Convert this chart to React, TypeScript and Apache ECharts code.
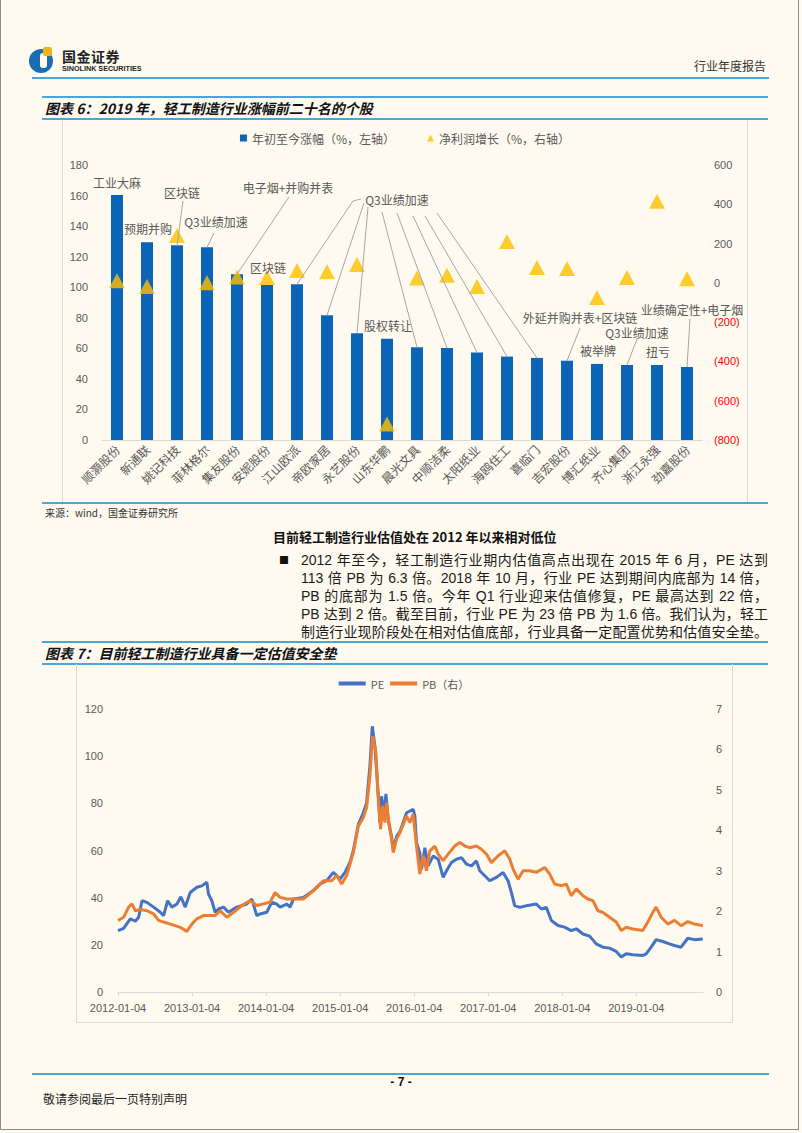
import React, { useEffect, useRef } from 'react';
import * as echarts from 'echarts';

// ---------- Chart 1 data ----------
const stocks = ['顺灏股份', '新通联', '姚记科技', '菲林格尔', '集友股份', '安妮股份', '江山欧派', '帝欧家居', '永艺股份', '山东华鹏', '晨光文具', '中顺洁柔', '太阳纸业', '海鸥住工', '喜临门', '吉宏股份', '博汇纸业', '齐心集团', '浙江永强', '劲嘉股份'];
const ytdGain = [160.4, 129.4, 127.4, 126.1, 108.5, 101.5, 101.9, 81.6, 69.8, 66.3, 60.7, 60.2, 57.2, 54.6, 53.7, 51.9, 49.8, 49.1, 49.1, 47.8];
const profitGrowth = [11, -19, 241, 1, 30, 27, 63, 56, 93, -718, 25, 39, -19, 210, 78, 73, -75, 27, 416, 21];
const leftTicks = { min: 0, max: 180, interval: 20 };
const rightTicks = { min: -800, max: 600, interval: 200 };

// ---------- Chart 2 data (decimal years) ----------
const peDates = [2012.000, 2012.076, 2012.166, 2012.234, 2012.279, 2012.324, 2012.391, 2012.481, 2012.571, 2012.616, 2012.670, 2012.728, 2012.796, 2012.849, 2012.908, 2012.975, 2013.065, 2013.133, 2013.200, 2013.222, 2013.267, 2013.312, 2013.357, 2013.425, 2013.492, 2013.604, 2013.739, 2013.807, 2013.874, 2013.919, 2014.009, 2014.076, 2014.144, 2014.189, 2014.279, 2014.324, 2014.369, 2014.503, 2014.638, 2014.728, 2014.818, 2014.908, 2014.998, 2015.065, 2015.133, 2015.178, 2015.245, 2015.312, 2015.357, 2015.402, 2015.434, 2015.470, 2015.515, 2015.537, 2015.560, 2015.591, 2015.618, 2015.649, 2015.694, 2015.717, 2015.762, 2015.807, 2015.897, 2015.987, 2016.009, 2016.031, 2016.076, 2016.099, 2016.144, 2016.189, 2016.256, 2016.324, 2016.391, 2016.436, 2016.503, 2016.571, 2016.638, 2016.706, 2016.773, 2016.840, 2016.885, 2016.953, 2017.020, 2017.110, 2017.200, 2017.267, 2017.312, 2017.357, 2017.425, 2017.515, 2017.649, 2017.717, 2017.784, 2017.852, 2017.942, 2018.031, 2018.121, 2018.189, 2018.279, 2018.369, 2018.458, 2018.548, 2018.638, 2018.728, 2018.796, 2018.863, 2018.953, 2019.088, 2019.133, 2019.200, 2019.267, 2019.357, 2019.447, 2019.515, 2019.604, 2019.694, 2019.784, 2019.897];
const peValues = [26, 27, 31, 30, 31.7, 38.7, 38, 36, 33.8, 32.4, 38.7, 36, 37.3, 40.4, 36, 42.2, 44.4, 45, 46.5, 41.5, 38.7, 33.8, 35.2, 36, 33.8, 36, 37.3, 39.4, 32.4, 33.1, 33.8, 38, 37.3, 36, 37.3, 36, 39.4, 40.1, 43, 45.8, 47.2, 50.7, 47.9, 50.7, 55, 60, 71, 76, 80, 96, 112.7, 104, 83, 72, 83, 74.6, 84, 73, 66, 60.5, 66, 68, 76, 77.4, 74.6, 63.4, 59, 52, 61.2, 53.5, 57.7, 56.3, 48.6, 51.4, 54.9, 56.3, 57, 54.2, 53.5, 55.6, 51.4, 49.3, 47.2, 48.6, 50.7, 47.2, 42.2, 36.6, 35.9, 36.6, 37.3, 35.2, 35.9, 30.3, 28.2, 27.5, 26, 26.8, 24.6, 23.7, 20.4, 19, 18.6, 17.2, 14.8, 16.2, 15.8, 15.5, 16.2, 19, 22.2, 21.4, 20.4, 19.7, 19, 22.8, 22.2, 22.5];
const pbDates = [2012.000, 2012.076, 2012.144, 2012.189, 2012.234, 2012.301, 2012.391, 2012.481, 2012.548, 2012.616, 2012.706, 2012.773, 2012.840, 2012.930, 2012.998, 2013.065, 2013.155, 2013.245, 2013.312, 2013.380, 2013.470, 2013.560, 2013.672, 2013.784, 2013.874, 2013.964, 2014.054, 2014.121, 2014.189, 2014.279, 2014.369, 2014.503, 2014.638, 2014.773, 2014.885, 2014.953, 2015.020, 2015.088, 2015.178, 2015.245, 2015.312, 2015.357, 2015.402, 2015.438, 2015.483, 2015.515, 2015.546, 2015.573, 2015.604, 2015.627, 2015.663, 2015.694, 2015.717, 2015.762, 2015.807, 2015.897, 2015.942, 2015.987, 2016.031, 2016.076, 2016.121, 2016.166, 2016.211, 2016.279, 2016.324, 2016.391, 2016.458, 2016.548, 2016.616, 2016.683, 2016.751, 2016.840, 2016.908, 2016.975, 2017.043, 2017.133, 2017.222, 2017.290, 2017.335, 2017.402, 2017.470, 2017.560, 2017.649, 2017.762, 2017.829, 2017.897, 2017.987, 2018.054, 2018.121, 2018.189, 2018.279, 2018.346, 2018.413, 2018.481, 2018.548, 2018.638, 2018.728, 2018.796, 2018.863, 2018.953, 2019.088, 2019.155, 2019.222, 2019.267, 2019.335, 2019.425, 2019.515, 2019.604, 2019.694, 2019.784, 2019.897];
const pbValues = [1.77, 1.85, 2.10, 2.18, 2.01, 2.04, 2.01, 1.93, 1.77, 1.73, 1.68, 1.64, 1.60, 1.50, 1.68, 1.81, 1.89, 1.89, 1.89, 2.01, 1.85, 1.97, 2.14, 2.26, 2.14, 2.18, 2.22, 2.46, 2.34, 2.30, 2.30, 2.30, 2.50, 2.75, 2.75, 2.88, 2.67, 2.88, 3.45, 4.10, 4.31, 4.56, 5.34, 6.33, 5.92, 4.77, 4.03, 4.60, 4.19, 4.68, 4.11, 3.78, 3.45, 3.78, 3.94, 4.35, 4.19, 4.40, 3.61, 2.92, 3.37, 3.00, 3.49, 3.61, 3.41, 3.25, 3.41, 3.61, 3.70, 3.61, 3.57, 3.61, 3.53, 3.41, 3.20, 3.37, 3.49, 3.29, 3.04, 2.79, 3.00, 3.00, 2.96, 3.08, 2.92, 2.67, 2.63, 2.67, 2.38, 2.55, 2.38, 2.30, 2.26, 2.01, 1.97, 1.85, 1.73, 1.52, 1.60, 1.56, 1.52, 1.73, 1.97, 2.10, 1.85, 1.68, 1.77, 1.64, 1.74, 1.68, 1.64];

// ---------- Layout / styles ----------
const CJK = '"Noto Sans CJK SC", "Noto Sans", sans-serif';
const LAT = '"Liberation Sans", "Noto Sans CJK SC", sans-serif';
const BLUE_RULE = '#4aa6d8';
const GREY = '#595959';

const C1 = { left: 62, top: 120, width: 686, height: 383 };
const C2 = { left: 76, top: 664, width: 656, height: 358 };

// annotation labels (page coordinates) with leader lines to bar tops
type Leader = { bar: number; from: [number, number]; hook?: [number, number] };
const annotations: { text: string; x: number; y: number; leaders?: Leader[] }[] = [
  { text: '工业大麻', x: 117, y: 182 },
  { text: '预期并购', x: 148, y: 228 },
  { text: '区块链', x: 182, y: 192, leaders: [{ bar: 2, from: [183, 201] }] },
  { text: 'Q3业绩加速', x: 216, y: 221, leaders: [{ bar: 3, from: [214, 233] }] },
  { text: '电子烟+并购并表', x: 288, y: 187, leaders: [{ bar: 4, from: [289, 197] }] },
  { text: '区块链', x: 268, y: 267 },
  {
    text: 'Q3业绩加速', x: 397, y: 199, leaders: [
      { bar: 6, from: [353, 201], hook: [361, 199] },
      { bar: 7, from: [364, 203] },
      { bar: 8, from: [368, 207] },
      { bar: 10, from: [382, 212] },
      { bar: 11, from: [397, 213] },
      { bar: 12, from: [413, 216] },
      { bar: 13, from: [425, 216] },
      { bar: 14, from: [437, 213] },
    ],
  },
  { text: '股权转让', x: 388, y: 325 },
  { text: '外延并购并表+区块链', x: 580, y: 317, leaders: [{ bar: 15, from: [580, 328] }] },
  { text: '被举牌', x: 598, y: 350 },
  { text: 'Q3业绩加速', x: 637, y: 332, leaders: [{ bar: 17, from: [637, 339] }] },
  { text: '扭亏', x: 658, y: 351 },
  { text: '业绩确定性+电子烟', x: 692, y: 309, leaders: [{ bar: 19, from: [690, 319] }] },
];

const paraLines = [
  '2012 年至今，轻工制造行业期内估值高点出现在 2015 年 6 月，PE 达到',
  '113 倍 PB 为 6.3 倍。2018 年 10 月，行业 PE 达到期间内底部为 14 倍，',
  'PB 的底部为 1.5 倍。今年 Q1 行业迎来估值修复，PE 最高达到 22 倍，',
  'PB 达到 2 倍。截至目前，行业 PE 为 23 倍 PB 为 1.6 倍。我们认为，轻工',
  '制造行业现阶段处在相对估值底部，行业具备一定配置优势和估值安全垫。',
];

function Txt(props: { x: number; y: number; size: number; children: React.ReactNode; style?: React.CSSProperties; w?: number; align?: 'left' | 'right' | 'center' }) {
  const h = Math.round(props.size * 1.4);
  const st: React.CSSProperties = {
    position: 'absolute',
    top: props.y - h / 2,
    height: h,
    lineHeight: h + 'px',
    fontSize: props.size,
    whiteSpace: 'nowrap',
    ...props.style,
  };
  if (props.align === 'right') { st.right = 802 - props.x; }
  else if (props.align === 'center') { st.left = props.x - 200; st.width = 400; st.textAlign = 'center'; }
  else { st.left = props.x; }
  if (props.w) st.width = props.w;
  return <div style={st}>{props.children}</div>;
}

function Rule(props: { x1: number; x2: number; y: number; w?: number; color?: string }) {
  const w = props.w ?? 2;
  return <div style={{ position: 'absolute', left: props.x1, top: props.y - w / 2, width: props.x2 - props.x1, height: w, background: props.color ?? BLUE_RULE }} />;
}

export default function App() {
  const r1 = useRef<HTMLDivElement>(null);
  const r2 = useRef<HTMLDivElement>(null);

  useEffect(() => {
    const ch1 = echarts.init(r1.current!, undefined, { renderer: 'svg' });
    ch1.setOption({
      animation: false,
      legend: {
        top: 7,
        left: 'center',
        itemWidth: 7,
        itemHeight: 7,
        itemGap: 32,
        textStyle: { fontSize: 12, color: GREY, fontFamily: CJK },
        data: [
          { name: '年初至今涨幅（%，左轴）', icon: 'rect' },
          { name: '净利润增长（%，右轴）', icon: 'triangle' },
        ],
      },
      grid: { left: 40, right: 46, top: 45, bottom: 63 },
      xAxis: {
        type: 'category',
        data: stocks,
        axisLine: { lineStyle: { color: '#d9d9d9' } },
        axisTick: { show: false },
        axisLabel: { rotate: 45, interval: 0, fontSize: 12, color: GREY, fontFamily: CJK, margin: 7 },
      },
      yAxis: [
        {
          type: 'value', ...leftTicks,
          splitLine: { show: false }, axisLine: { show: false }, axisTick: { show: false },
          axisLabel: { fontSize: 11, color: GREY, fontFamily: LAT, margin: 14 },
        },
        {
          type: 'value', ...rightTicks,
          splitLine: { show: false }, axisLine: { show: false }, axisTick: { show: false },
          axisLabel: {
            fontSize: 11, fontFamily: LAT, margin: 12,
            formatter: (v: number) => (v < 0 ? `(${-v})` : `${v}`),
            color: (v: any) => (Number(v) < 0 ? '#ff0000' : GREY),
          },
        },
      ],
      series: [
        { name: '年初至今涨幅（%，左轴）', type: 'bar', data: ytdGain, barWidth: 12, itemStyle: { color: '#0b64b8' } },
        { name: '净利润增长（%，右轴）', type: 'scatter', yAxisIndex: 1, data: profitGrowth, symbol: 'triangle', symbolSize: [16, 15], itemStyle: { color: '#ffc000' } },
      ],
    });

    const graphics: any[] = [];
    annotations.forEach((a) => {
      (a.leaders || []).forEach((l) => {
        const p = ch1.convertToPixel({ xAxisIndex: 0, yAxisIndex: 0 }, [l.bar, ytdGain[l.bar]]) as number[];
        const pts: number[][] = [];
        if (l.hook) pts.push([l.hook[0] - C1.left, l.hook[1] - C1.top]);
        pts.push([l.from[0] - C1.left, l.from[1] - C1.top]);
        pts.push([p[0], p[1]]);
        graphics.push({ type: 'polyline', silent: true, shape: { points: pts }, style: { stroke: '#a6a6a6', lineWidth: 1, fill: 'none' }, z: 10 });
      });
      graphics.push({
        type: 'text', silent: true, x: a.x - C1.left, y: a.y - C1.top, z: 11,
        style: { text: a.text, fill: GREY, font: `12px ${CJK}`, align: 'center', verticalAlign: 'middle', textAlign: 'center', textVerticalAlign: 'middle' },
      });
    });
    ch1.setOption({ graphic: graphics });

    const ch2 = echarts.init(r2.current!, undefined, { renderer: 'svg' });
    const axisLbl = { fontSize: 11, color: GREY, fontFamily: LAT };
    ch2.setOption({
      animation: false,
      legend: {
        top: 9,
        left: 'center',
        itemWidth: 27,
        itemHeight: 4,
        itemGap: 6,
        textStyle: { fontSize: 11, color: GREY, fontFamily: CJK },
        data: [{ name: 'PE', icon: 'rect' }, { name: 'PB（右）', icon: 'rect' }],
      },
      grid: { left: 42, right: 29, top: 45, bottom: 30 },
      xAxis: {
        type: 'value', min: 2012, max: 2019.9, interval: 1,
        splitLine: { show: false },
        axisLine: { lineStyle: { color: '#d9d9d9' } },
        axisTick: { show: true, length: 4, lineStyle: { color: '#d9d9d9' } },
        axisLabel: { ...axisLbl, margin: 10, showMaxLabel: false, formatter: (v: number) => (Math.abs(v - Math.round(v)) < 1e-6 ? `${Math.round(v)}-01-04` : '') },
      },
      yAxis: [
        { type: 'value', min: 0, max: 120, interval: 20, splitLine: { show: false }, axisLine: { show: false }, axisTick: { show: false }, axisLabel: { ...axisLbl, margin: 15 } },
        { type: 'value', min: 0, max: 7, interval: 1, splitLine: { show: false }, axisLine: { show: false }, axisTick: { show: false }, axisLabel: { ...axisLbl, margin: 13 } },
      ],
      series: [
        {
          name: 'PE', type: 'line', showSymbol: false, symbol: 'none',
          data: peDates.map((d, i) => [d, peValues[i]]),
          lineStyle: { width: 3, color: '#4472c4' }, itemStyle: { color: '#4472c4' },
        },
        {
          name: 'PB（右）', type: 'line', yAxisIndex: 1, showSymbol: false, symbol: 'none',
          data: pbDates.map((d, i) => [d, pbValues[i]]),
          lineStyle: { width: 3, color: '#ed7d31' }, itemStyle: { color: '#ed7d31' },
        },
      ],
    });

    return () => {
      ch1.dispose();
      ch2.dispose();
    };
  }, []);

  return (
    <div style={{ position: 'absolute', left: 0, top: 0, width: 802, height: 1133, background: '#fefaf0', overflow: 'hidden', fontFamily: CJK, color: '#1a1a1a' }}>
      {/* page border */}
      <div style={{ position: 'absolute', left: 0, top: -2, width: 799, height: 1132, border: '1.5px solid #8c8c8c', boxSizing: 'border-box' }} />

      {/* header logo */}
      <svg style={{ position: 'absolute', left: 28, top: 44 }} width={30} height={32} viewBox="0 0 30 32">
        <circle cx={13} cy={17} r={12} fill="#1b6db3" />
        <rect x={12} y={9} width={7} height={15} rx={3} fill="#fefaf0" />
        <rect x={15} y={3} width={9} height={9} rx={2} fill="#f2b21b" />
      </svg>
      <Txt x={62} y={56} size={14} style={{ fontWeight: 700, color: '#222', letterSpacing: 0.5 }}>国金证券</Txt>
      <Txt x={62} y={69} size={7.2} style={{ fontWeight: 700, color: '#222', fontFamily: LAT }}>SINOLINK SECURITIES</Txt>
      <Txt x={766} y={65} size={12} align="right" style={{ color: '#333' }}>行业年度报告</Txt>
      <Rule x1={32} x2={769} y={78} />

      {/* chart 6 title */}
      <Rule x1={42} x2={768} y={97} />
      <Txt x={45} y={108} size={14} style={{ fontWeight: 700, fontStyle: 'italic', color: '#111' }}>图表 6：2019 年，轻工制造行业涨幅前二十名的个股</Txt>
      <Rule x1={42} x2={768} y={119} />

      {/* chart 1 frame */}
      <div style={{ position: 'absolute', left: 62, top: 120, width: 686, height: 382, borderLeft: '1px solid #d9d9d9', borderRight: '1px solid #d9d9d9', boxSizing: 'border-box' }} />
      <div ref={r1} style={{ position: 'absolute', left: C1.left, top: C1.top, width: C1.width, height: C1.height }} />
      <Rule x1={42} x2={768} y={503} w={2.5} />
      <Txt x={45} y={513} size={10} style={{ color: '#333' }}>来源：wind，国金证券研究所</Txt>

      {/* text block */}
      <Txt x={273} y={537} size={13} style={{ fontWeight: 700, color: '#111' }}>目前轻工制造行业估值处在 2012 年以来相对低位</Txt>
      <Txt x={279} y={560} size={10} style={{ color: '#111' }}>■</Txt>
      {paraLines.map((t, i) => (
        <div key={i} style={{ position: 'absolute', left: 301, top: 560 + i * 18 - 10, width: 467, height: 20, lineHeight: '20px', fontSize: 14, textAlign: 'justify', textAlignLast: 'justify', whiteSpace: 'nowrap', fontFamily: LAT, color: '#1a1a1a' }}>{t}</div>
      ))}

      {/* chart 7 title */}
      <Rule x1={42} x2={768} y={642} />
      <Txt x={45} y={653} size={14} style={{ fontWeight: 700, fontStyle: 'italic', color: '#111' }}>图表 7：目前轻工制造行业具备一定估值安全垫</Txt>
      <Rule x1={42} x2={768} y={664} />

      {/* chart 2 frame */}
      <div style={{ position: 'absolute', left: 76, top: 664, width: 657, height: 359, border: '1px solid #d9d9d9', borderTop: 'none', boxSizing: 'border-box' }} />
      <div ref={r2} style={{ position: 'absolute', left: C2.left, top: C2.top, width: C2.width, height: C2.height }} />

      {/* footer */}
      <Rule x1={32} x2={769} y={1074} />
      <Txt x={401} y={1082} size={12} align="center" style={{ fontWeight: 700, fontFamily: LAT, color: '#111' }}>- 7 -</Txt>
      <Txt x={43} y={1098} size={12} style={{ color: '#222' }}>敬请参阅最后一页特别声明</Txt>
    </div>
  );
}
